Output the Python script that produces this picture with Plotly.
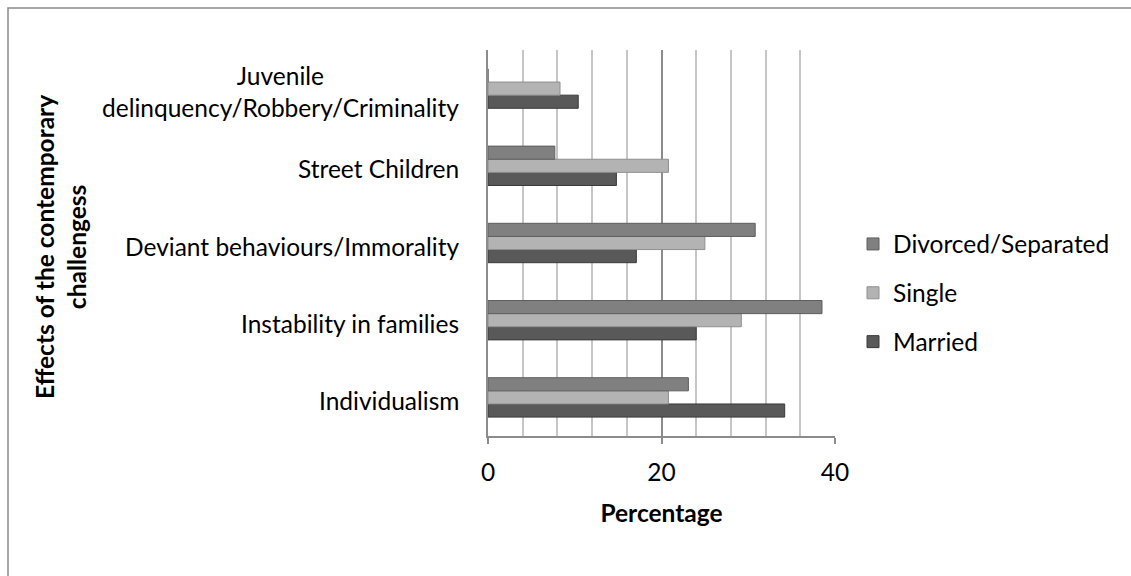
import plotly.graph_objects as go

# Effects of contemporary challenges, by marital status (percent of respondents)
categories = [
    "Individualism",
    "Instability in families",
    "Deviant behaviours/Immorality",
    "Street Children",
    "Juvenile<br>delinquency/Robbery/Criminality",
]
married = [34.2, 24.0, 17.1, 14.8, 10.4]
single = [20.8, 29.2, 25.0, 20.8, 8.3]
divorced = [23.1, 38.5, 30.8, 7.7, 0.0]

x_ticks = [0, 20, 40]

W, H = 1131, 576
L, R, T, B = 488, 296, 50, 140
FONT = "Lato"
FS = 24.5

# name, values, fill, edge, legend rank (top to bottom)
series = [
    ("Married", married, "#595959", "#3a3a3a", 3),
    ("Single", single, "#b3b3b3", "#8f8f8f", 2),
    ("Divorced/Separated", divorced, "#808080", "#5e5e5e", 1),
]

fig = go.Figure()
for name, vals, color, edge, rank in series:
    fig.add_trace(go.Bar(
        y=list(range(len(categories))),
        x=vals,
        orientation="h",
        name=name,
        legendgroup=name,
        legendrank=rank,
        marker=dict(color=color, line=dict(color=edge, width=1)),
    ))

pw, ph = W - L - R, H - T - B

# category labels, centred line by line
annotations = []
for i, label in enumerate(categories):
    annotations.append(dict(
        x=(461 - L) / pw, xref="paper", xanchor="right",
        y=i, yref="y", yanchor="middle", yshift=-3,
        text=label, showarrow=False, align="center",
        font=dict(family=FONT, size=FS, color="#000000"),
    ))

# vertical axis title
annotations.append(dict(
    x=(60 - L) / pw, xref="paper", xanchor="center",
    y=(H - B - 247) / ph, yref="paper", yanchor="middle",
    text="<b>Effects of the contemporary<br>challengess</b>",
    textangle=-90, showarrow=False, align="center",
    font=dict(family=FONT, size=FS, color="#000000"),
))

frame = dict(
    type="rect", xref="paper", yref="paper",
    x0=(8 - L) / pw, x1=2.2, y0=-0.6, y1=1 + (T - 8) / ph,
    line=dict(color="#8a8a8a", width=1.5), fillcolor="rgba(0,0,0,0)",
    layer="below",
)

fig.update_layout(
    width=W, height=H,
    margin=dict(l=L, r=R, t=T, b=B, autoexpand=False),
    paper_bgcolor="#ffffff", plot_bgcolor="#ffffff",
    barmode="group", bargap=0.49, bargroupgap=0.0,
    font=dict(family=FONT, size=FS, color="#000000"),
    shapes=[frame],
    annotations=annotations,
    legend=dict(
        xref="container", yref="container",
        x=853 / W, y=1 - 293 / H, xanchor="left", yanchor="middle",
        traceorder="grouped", tracegroupgap=14,
        font=dict(family=FONT, size=FS, color="#000000"),
        bgcolor="rgba(0,0,0,0)",
    ),
    xaxis=dict(
        range=[0, 40], tickvals=x_ticks, ticktext=[str(v) for v in x_ticks],
        showgrid=True, gridcolor="#8c8c8c", gridwidth=1.5,
        minor=dict(dtick=4, showgrid=True, gridcolor="#c6c6c6", gridwidth=1.5),
        showline=True, linecolor="#8c8c8c", linewidth=1.5,
        ticks="outside", ticklen=6, tickcolor="#8c8c8c", tickwidth=1.5,
        ticklabelstandoff=8,
        zeroline=False,
        tickfont=dict(family=FONT, size=FS),
        title=dict(text="<b>Percentage</b>", standoff=20,
                   font=dict(family=FONT, size=FS)),
    ),
    yaxis=dict(
        range=[-0.5, len(categories) - 0.5],
        showticklabels=False, showgrid=False, zeroline=False,
        showline=True, linecolor="#8c8c8c", linewidth=1.5,
    ),
)

fig.write_html("out.html")
